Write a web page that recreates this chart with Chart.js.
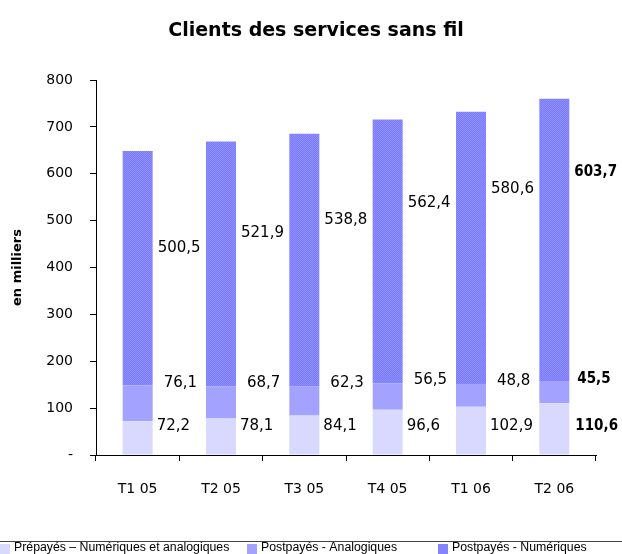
<!DOCTYPE html>
<html>
<head>
<meta charset="utf-8">
<script src="https://cdn.jsdelivr.net/npm/chart.js@4/dist/chart.umd.min.js"></script>
<style>
  html, body { margin: 0; padding: 0; background: #fff; }
  #wrap { width: 622px; height: 554px; position: relative; }
</style>
</head>
<body>
<div id="wrap"><canvas id="wireless_chart" width="622" height="554"></canvas></div>
<script>
const quarters = ['T1 05', 'T2 05', 'T3 05', 'T4 05', 'T1 06', 'T2 06'];
const prepaid = [72.2, 78.1, 84.1, 96.6, 102.9, 110.6];
const postpaidAnalog = [76.1, 68.7, 62.3, 56.5, 48.8, 45.5];
const postpaidDigital = [500.5, 521.9, 538.8, 562.4, 580.6, 603.7];
const seriesNames = ['Prépayés – Numériques et analogiques', 'Postpayés - Analogiques', 'Postpayés - Numériques'];

const FONT = '"DejaVu Sans", Verdana, sans-serif';

// checkered fill for the digital segment
function makePattern(){
    const c = document.createElement('canvas');
    c.width = 2; c.height = 2;
    const g = c.getContext('2d');
    g.fillStyle = '#7b7bff'; g.fillRect(0, 0, 2, 2);
    g.fillStyle = '#8e8eff'; g.fillRect(0, 0, 1, 1); g.fillRect(1, 1, 1, 1);
    return g.createPattern(c, 'repeat');
}
const digitalFill = makePattern();
const colors = ['#d9d9ff', '#a3a3ff', digitalFill];
const legendColors = ['#d9d9ff', '#a3a3ff', '#8484ff'];

// value labels to the right of each bar, plus title and legend
const decorPlugin = {
    id: 'decor',
    afterDraw(chart){
        const ctx = chart.ctx;
        const y = chart.scales.y;
        ctx.save();
        ctx.textBaseline = 'middle';
        ctx.textAlign = 'left';
        ctx.fillStyle = '#000';
        const fmt = v => v.toFixed(1).replace('.', ',');
        chart.getDatasetMeta(0).data.forEach((bar, i) => {
            const right = bar.x + bar.width / 2 + 4;
            const last = i === quarters.length - 1;
            ctx.font = last ? 'bold 15px "DejaVu Sans Condensed", "DejaVu Sans", sans-serif' : '15px ' + FONT;
            const p = prepaid[i], a = postpaidAnalog[i], d = postpaidDigital[i];
            ctx.fillText(fmt(p), right + (last ? 2 : 0), y.getPixelForValue(Math.min(p, 62)));
            ctx.fillText(fmt(a), right + (last ? 4 : 7), y.getPixelForValue(p + a + 6));
            ctx.fillText(fmt(d), right + 1, y.getPixelForValue(1.57 * d - 345));
        });

        // title
        ctx.textAlign = 'center';
        ctx.font = 'bold 19px ' + FONT;
        ctx.fillText('Clients des services sans fil', 316, 31);

        // legend
        ctx.strokeStyle = '#444';
        ctx.lineWidth = 1;
        ctx.beginPath();
        ctx.moveTo(0, 541.5); ctx.lineTo(622, 541.5);
        ctx.stroke();
        ctx.textAlign = 'left';
        ctx.font = '12.3px "Liberation Sans", Arial, sans-serif';
        const xs = [0, 247, 438];
        seriesNames.forEach((name, k) => {
            ctx.fillStyle = legendColors[k];
            ctx.fillRect(xs[k], 544, 10, 10);
            ctx.fillStyle = '#000';
            ctx.fillText(name, xs[k] + 14, 548);
        });
        ctx.restore();
    }
};

const ctx = document.getElementById('wireless_chart').getContext('2d');
const chart = new Chart(ctx, {
    type: 'bar',
    data: {
        labels: quarters,
        datasets: [
            { label: seriesNames[0], data: prepaid, backgroundColor: colors[0] },
            { label: seriesNames[1], data: postpaidAnalog, backgroundColor: colors[1] },
            { label: seriesNames[2], data: postpaidDigital, backgroundColor: colors[2] }
        ]
    },
    options: {
        responsive: false,
        animation: false,
        layout: { padding: { left: 0, right: 26, top: 80, bottom: 0 } },
        datasets: { bar: { barPercentage: 0.36, categoryPercentage: 1 } },
        plugins: {
            legend: { display: false },
            tooltip: { enabled: false }
        },
        scales: {
            x: {
                stacked: true,
                afterFit: s => { s.height = 99; },
                border: { color: '#000', width: 1 },
                grid: { drawOnChartArea: false, drawTicks: true, tickLength: 6, color: '#000', offset: true },
                ticks: { color: '#000', font: { family: FONT, size: 14 }, padding: 20 }
            },
            y: {
                stacked: true,
                min: 0, max: 800,
                afterFit: s => { s.width = 96; },
                border: { color: '#000', width: 1 },
                grid: { drawOnChartArea: false, drawTicks: true, tickLength: 6, color: '#000' },
                ticks: {
                    stepSize: 100, color: '#000', padding: 17,
                    font: { family: FONT, size: 14 },
                    callback: v => v === 0 ? '-' : v
                },
                title: {
                    display: true, text: 'en milliers', color: '#000',
                    font: { family: FONT, size: 13, weight: 'bold' },
                    padding: { top: 10, bottom: 0 }
                }
            }
        }
    },
    plugins: [decorPlugin]
});
</script>
</body>
</html>
